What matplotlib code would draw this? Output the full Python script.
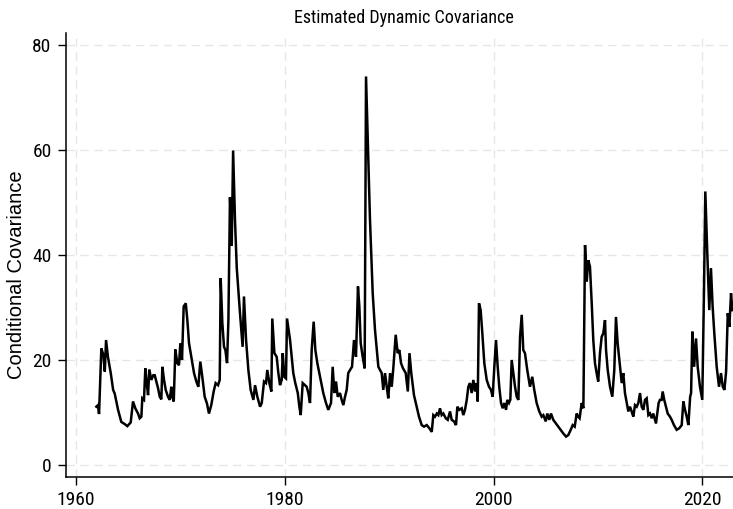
import matplotlib
matplotlib.use("Agg")
import matplotlib.pyplot as plt
from matplotlib import font_manager

# ---- data (decimal year, conditional covariance) ----
years = [
    1961.99, 1962.15, 1962.25, 1962.47, 1962.66, 1962.80, 1962.92, 1963.10, 1963.37, 1963.60,
    1963.75, 1964.07, 1964.38, 1964.70, 1964.96, 1965.28, 1965.50, 1965.72, 1965.98, 1966.14,
    1966.30, 1966.39, 1966.55, 1966.68, 1966.81, 1966.94, 1967.06, 1967.25, 1967.45, 1967.58,
    1967.73, 1967.90, 1968.06, 1968.21, 1968.31, 1968.47, 1968.63, 1968.85, 1969.01, 1969.17,
    1969.26, 1969.40, 1969.55, 1969.74, 1969.90, 1970.03, 1970.19, 1970.35, 1970.55, 1970.70,
    1970.86, 1971.08, 1971.34, 1971.56, 1971.75, 1971.94, 1972.13, 1972.36, 1972.58, 1972.77,
    1972.99, 1973.22, 1973.41, 1973.64, 1973.80, 1973.89, 1974.05, 1974.21, 1974.34, 1974.50,
    1974.63, 1974.69, 1974.78, 1974.95, 1975.08, 1975.26, 1975.43, 1975.74, 1975.99, 1976.12,
    1976.32, 1976.54, 1976.76, 1977.02, 1977.18, 1977.40, 1977.66, 1977.82, 1978.04, 1978.23,
    1978.35, 1978.55, 1978.74, 1978.83, 1979.03, 1979.25, 1979.41, 1979.57, 1979.73, 1979.83,
    1979.98, 1980.14, 1980.24, 1980.40, 1980.53, 1980.69, 1980.84, 1981.03, 1981.27, 1981.42,
    1981.55, 1981.74, 1981.96, 1982.12, 1982.28, 1982.44, 1982.60, 1982.79, 1982.95, 1983.14,
    1983.27, 1983.46, 1983.71, 1983.97, 1984.19, 1984.45, 1984.61, 1984.77, 1984.93, 1985.09,
    1985.31, 1985.47, 1985.63, 1985.79, 1985.95, 1986.10, 1986.27, 1986.46, 1986.65, 1986.84,
    1987.03, 1987.16, 1987.29, 1987.48, 1987.67, 1987.80, 1987.96, 1988.18, 1988.44, 1988.66,
    1988.98, 1989.30, 1989.45, 1989.62, 1989.78, 1989.93, 1990.10, 1990.26, 1990.41, 1990.64,
    1990.83, 1990.99, 1991.15, 1991.34, 1991.60, 1991.80, 1991.96, 1992.13, 1992.39, 1992.65,
    1992.87, 1993.13, 1993.35, 1993.61, 1993.86, 1994.09, 1994.24, 1994.40, 1994.57, 1994.72,
    1994.88, 1995.04, 1995.20, 1995.43, 1995.62, 1995.84, 1996.00, 1996.22, 1996.41, 1996.54,
    1996.73, 1996.96, 1997.11, 1997.27, 1997.44, 1997.59, 1997.75, 1997.91, 1998.07, 1998.23,
    1998.39, 1998.49, 1998.61, 1998.77, 1998.93, 1999.12, 1999.35, 1999.57, 1999.76, 1999.92,
    2000.08, 2000.24, 2000.40, 2000.55, 2000.72, 2000.88, 2001.03, 2001.20, 2001.32, 2001.48,
    2001.61, 2001.74, 2001.90, 2002.06, 2002.22, 2002.38, 2002.54, 2002.70, 2002.85, 2003.01,
    2003.23, 2003.49, 2003.71, 2003.90, 2004.13, 2004.38, 2004.61, 2004.77, 2005.00, 2005.15,
    2005.34, 2005.50, 2005.72, 2005.98, 2006.20, 2006.43, 2006.68, 2006.94, 2007.16, 2007.39,
    2007.58, 2007.77, 2007.96, 2008.11, 2008.24, 2008.44, 2008.60, 2008.76, 2008.92, 2009.07,
    2009.23, 2009.40, 2009.55, 2009.71, 2009.87, 2010.02, 2010.19, 2010.35, 2010.51, 2010.67,
    2010.77, 2010.93, 2011.15, 2011.37, 2011.56, 2011.72, 2011.88, 2012.11, 2012.27, 2012.42,
    2012.58, 2012.75, 2012.90, 2013.06, 2013.22, 2013.38, 2013.54, 2013.70, 2013.86, 2014.02,
    2014.18, 2014.34, 2014.50, 2014.66, 2014.82, 2014.98, 2015.14, 2015.29, 2015.45, 2015.55,
    2015.67, 2015.80, 2015.93, 2016.09, 2016.19, 2016.34, 2016.50, 2016.67, 2016.89, 2017.05,
    2017.27, 2017.53, 2017.78, 2018.01, 2018.17, 2018.33, 2018.49, 2018.65, 2018.82, 2018.91,
    2019.03, 2019.20, 2019.38, 2019.54, 2019.76, 2019.98, 2020.14, 2020.27, 2020.46, 2020.65,
    2020.81, 2020.97, 2021.13, 2021.36, 2021.58, 2021.77, 2021.94, 2022.10, 2022.26, 2022.42,
    2022.57, 2022.73, 2022.86,
]
cov = [
    11.1, 11.4, 9.7, 22.2, 21.0, 17.8, 23.8, 20.6, 17.5, 14.3,
    13.6, 10.5, 8.2, 7.8, 7.4, 8.1, 12.1, 10.8, 9.8, 8.9,
    9.2, 12.7, 12.4, 18.4, 15.6, 13.3, 18.2, 16.2, 17.1, 17.1,
    15.9, 14.6, 13.0, 12.5, 18.7, 16.2, 14.3, 13.0, 12.4, 14.9,
    13.0, 12.1, 22.0, 19.4, 19.0, 23.2, 20.0, 30.2, 30.8, 27.6,
    23.2, 20.6, 17.5, 15.9, 14.9, 19.7, 16.8, 13.0, 11.7, 9.8,
    11.4, 14.0, 15.6, 15.2, 16.2, 35.6, 27.0, 22.5, 21.9, 19.4,
    27.6, 36.5, 51.0, 41.8, 59.9, 46.7, 37.5, 28.9, 22.5, 32.1,
    23.8, 18.1, 14.3, 12.4, 15.2, 13.0, 11.1, 11.8, 15.9, 15.6,
    18.1, 15.6, 14.0, 27.9, 21.3, 20.6, 17.5, 15.2, 16.2, 21.3,
    16.8, 16.5, 27.9, 25.7, 23.8, 20.6, 17.5, 15.6, 13.7, 11.1,
    9.5, 15.6, 15.2, 14.9, 13.7, 11.8, 21.9, 27.3, 21.9, 19.4,
    18.1, 16.2, 13.7, 11.8, 10.5, 11.8, 18.7, 13.7, 15.9, 13.0,
    13.7, 12.4, 11.4, 13.0, 14.3, 17.5, 18.1, 18.7, 23.8, 20.6,
    34.0, 30.2, 23.2, 20.6, 18.4, 74.0, 62.5, 46.7, 32.7, 25.7,
    18.7, 17.5, 14.3, 17.5, 14.9, 12.7, 17.5, 14.9, 18.4, 24.8,
    21.3, 21.9, 19.4, 18.4, 17.5, 14.0, 21.3, 17.5, 13.3, 11.1,
    9.2, 7.6, 7.3, 7.6, 7.0, 6.3, 9.5, 9.2, 9.8, 9.5,
    10.8, 9.5, 9.8, 8.9, 8.6, 10.2, 8.6, 8.3, 7.6, 11.1,
    10.5, 10.8, 9.5, 10.5, 12.4, 14.9, 15.6, 13.7, 16.2, 14.0,
    15.6, 12.1, 30.8, 29.5, 25.1, 19.4, 16.2, 14.9, 14.3, 13.0,
    18.7, 23.8, 18.7, 14.9, 11.8, 10.8, 11.8, 10.5, 12.4, 11.8,
    12.4, 20.0, 17.5, 14.9, 13.0, 12.4, 24.4, 28.6, 21.9, 21.3,
    18.1, 14.9, 16.8, 14.3, 11.8, 10.2, 9.2, 9.5, 8.3, 9.8,
    8.6, 9.8, 8.6, 7.9, 7.3, 6.7, 6.0, 5.4, 5.7, 6.7,
    7.6, 7.3, 9.8, 9.2, 8.9, 11.8, 10.8, 41.9, 34.9, 39.0,
    37.8, 30.8, 23.8, 19.4, 17.5, 15.9, 21.3, 24.4, 25.1, 27.6,
    21.9, 18.1, 14.9, 13.0, 18.1, 28.2, 23.2, 18.7, 15.6, 17.5,
    13.7, 11.8, 10.2, 11.1, 10.2, 9.2, 11.4, 11.1, 11.8, 13.7,
    11.1, 10.5, 12.4, 12.7, 9.5, 9.8, 8.9, 9.8, 8.6, 7.9,
    9.8, 11.8, 12.4, 12.4, 14.0, 12.4, 11.1, 9.8, 9.2, 8.6,
    7.6, 6.7, 7.0, 7.6, 12.1, 10.5, 9.2, 7.6, 13.0, 13.7,
    25.4, 18.7, 24.1, 18.7, 14.9, 12.4, 32.7, 52.1, 40.3, 29.5,
    37.5, 30.2, 25.1, 18.7, 14.9, 17.5, 14.9, 14.3, 17.8, 28.9,
    26.3, 32.7, 29.5,
]
x_ticks = [1960, 1980, 2000, 2020]
y_ticks = [0, 20, 40, 60, 80]
title = "Estimated Dynamic Covariance"
y_label = "Conditional Covariance"

# ---- fonts ----
avail = {f.name for f in font_manager.fontManager.ttflist}
narrow = None
for cand in ["Liberation Sans Narrow", "DejaVu Sans Condensed", "Roboto Condensed",
             "Open Sans Condensed"]:
    if cand in avail:
        narrow = cand
        break
regular = "Liberation Sans"
if narrow is None:
    narrow = regular
    title_size, tick_size = 11.5, 13
else:
    title_size, tick_size = 13, 14

W, H = 733, 509
fig = plt.figure(figsize=(W / 100, H / 100), dpi=100)
left, right, top, bottom = 65.5, 733, 32.7, 477
ax = fig.add_axes([left / W, 1 - bottom / H, (right - left) / W, (bottom - top) / H])

ax.plot(years, cov, color="black", lw=1.8, solid_joinstyle="miter")

ax.set_xlim(1959.04, 2022.92)
ax.set_ylim(-2.29, 82.34)
ax.set_xticks(x_ticks)
ax.set_yticks(y_ticks)
ax.grid(True, color="#e6e6e6", linestyle=(0, (6, 4)), lw=1.0)
ax.set_axisbelow(True)

for s in ["top", "right"]:
    ax.spines[s].set_visible(False)
for s in ["left", "bottom"]:
    ax.spines[s].set_color("black")
    ax.spines[s].set_linewidth(1.1)

ax.tick_params(axis="both", direction="out", length=6, width=1.0, color="black", pad=4)
for lab in ax.get_xticklabels() + ax.get_yticklabels():
    lab.set_fontfamily(narrow)
    lab.set_fontsize(tick_size)

fig.text(404 / W, 1 - 18 / H, title, ha="center", va="center", fontsize=title_size,
         family=narrow)
fig.text(17 / W, 1 - 275 / H, y_label, ha="center", va="center", rotation=90,
         fontsize=14.5, family=regular)

fig.savefig("out.png", dpi=100)
